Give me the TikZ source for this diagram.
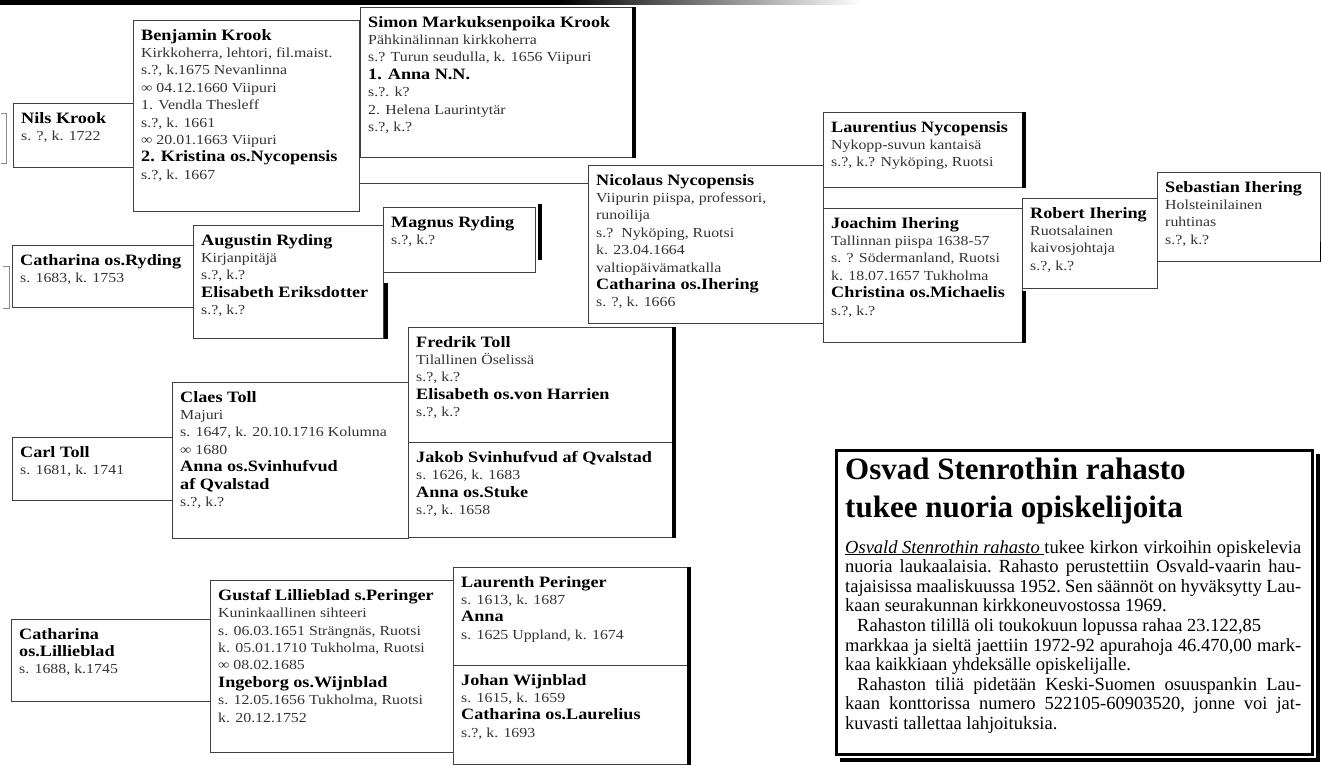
\documentclass[tikz,border=0pt]{standalone}
\usepackage{fontspec}
\setmainfont{Liberation Serif}
\newfontfamily\gfont{Liberation Serif}[FakeStretch=1.15]
\usetikzlibrary{calc}
\tikzset{
  pbox/.style={draw=black!75, line width=0.9pt, anchor=north west, inner sep=0pt},
  ptext/.style={anchor=north west, align=left, inner sep=0pt, text=black!80,
    font=\gfont\fontsize{13.8}{17.4}\selectfont},
  thick edge/.style={draw=black, line width=4pt},
  link/.style={draw=black!75, line width=0.9pt},
  brack/.style={draw=black!45, line width=0.7pt},
  newsbox/.style={draw=black, line width=3pt, anchor=north west, inner sep=0pt},
}
\newcommand{\pname}[1]{{\fontsize{15.8}{17.4}\selectfont\bfseries\color{black}#1}}
\newcommand{\jline}[1]{\leavevmode\hbox to 456pt{#1}}

\begin{document}
\begin{tikzpicture}[x=1pt, y=-1pt]
  \useasboundingbox (0,0) rectangle (1321,767);
  % rule at the top of the page
  \fill[black] (0,0) rectangle (560,5);
  \shade[left color=black, right color=white] (560,0) rectangle (860,5);

  % Krook / Nycopensis / Ihering
  \node[pbox, minimum width=120pt, minimum height=64pt] (nils) at (13,103) {};
  \node[pbox, minimum width=226pt, minimum height=191pt] (benjamin) at (133,20) {};
  \node[pbox, minimum width=272pt, minimum height=150pt] (simon) at (360,7) {};
  \node[pbox, minimum width=235pt, minimum height=158pt] (nicolaus) at (588,165) {};
  \node[pbox, minimum width=199pt, minimum height=75pt] (laurentius) at (823,112) {};
  \node[pbox, minimum width=199pt, minimum height=134pt] (joachim) at (823,208) {};
  \node[pbox, minimum width=135pt, minimum height=90pt] (robert) at (1022,198) {};
  \node[pbox, minimum width=163pt, minimum height=89pt] (sebastian) at (1157,172) {};

  \node[ptext] (nilst) at ([shift={(8,9)}]nils.north west) {\pname{Nils Krook}\\ s. ?, k. 1722};
  \node[ptext] (benjamint) at ([shift={(8,9)}]benjamin.north west) {\pname{Benjamin Krook}\\
    Kirkkoherra, lehtori, fil.maist.\\ s.?, k.1675 Nevanlinna\\ ∞ 04.12.1660 Viipuri\\
    1. Vendla Thesleff\\ s.?, k. 1661\\ ∞ 20.01.1663 Viipuri\\
    \pname{2. Kristina os.Nycopensis}\\ s.?, k. 1667};
  \node[ptext] (simont) at ([shift={(8,9)}]simon.north west) {\pname{Simon Markuksenpoika Krook}\\
    Pähkinälinnan kirkkoherra\\ s.? Turun seudulla, k. 1656 Viipuri\\ \pname{1. Anna N.N.}\\
    s.?. k?\\ 2. Helena Laurintytär\\ s.?, k.?};
  \node[ptext] (nicolaust) at ([shift={(8,9)}]nicolaus.north west) {\pname{Nicolaus Nycopensis}\\
    Viipurin piispa, professori,\\ runoilija\\ s.?~~Nyköping, Ruotsi\\ k. 23.04.1664\\
    valtiopäivämatkalla\\ \pname{Catharina os.Ihering}\\ s. ?, k. 1666};
  \node[ptext] (laurentiust) at ([shift={(8,9)}]laurentius.north west) {\pname{Laurentius Nycopensis}\\
    Nykopp-suvun kantaisä\\ s.?, k.? Nyköping, Ruotsi};
  \node[ptext] (joachimt) at ([shift={(8,9)}]joachim.north west) {\pname{Joachim Ihering}\\
    Tallinnan piispa 1638-57\\ s. ? Södermanland, Ruotsi\\ k. 18.07.1657 Tukholma\\
    \pname{Christina os.Michaelis}\\ s.?, k.?};
  \node[ptext] (robertt) at ([shift={(8,9)}]robert.north west) {\pname{Robert Ihering}\\
    Ruotsalainen\\ kaivosjohtaja\\ s.?, k.?};
  \node[ptext] (sebastiant) at ([shift={(8,9)}]sebastian.north west) {\pname{Sebastian Ihering}\\
    Holsteinilainen\\ ruhtinas\\ s.?, k.?};

  \draw[link] (benjamin.east |- 0,183) -- (nicolaus.west |- 0,183);

  % Ryding
  \node[pbox, minimum width=181pt, minimum height=62pt] (catryding) at (12,245) {};
  \node[pbox, minimum width=190pt, minimum height=113pt] (augustin) at (193,225) {};
  \node[pbox, minimum width=152pt, minimum height=65pt] (magnus) at (383,207) {};
  \node[ptext] (catrydingt) at ([shift={(8,9)}]catryding.north west) {\pname{Catharina os.Ryding}\\
    s. 1683, k. 1753};
  \node[ptext] (augustint) at ([shift={(8,9)}]augustin.north west) {\pname{Augustin Ryding}\\
    Kirjanpitäjä\\ s.?, k.?\\ \pname{Elisabeth Eriksdotter}\\ s.?, k.?};
  \node[ptext] (magnust) at ([shift={(8,9)}]magnus.north west) {\pname{Magnus Ryding}\\ s.?, k.?};

  % Toll
  \node[pbox, minimum width=160pt, minimum height=63pt] (carl) at (12,437) {};
  \node[pbox, minimum width=236pt, minimum height=156pt] (claes) at (172,382) {};
  \node[pbox, minimum width=264pt, minimum height=115pt] (fredrik) at (408,327) {};
  \node[pbox, minimum width=264pt, minimum height=95pt] (jakob) at (408,442) {};
  \node[ptext] (carlt) at ([shift={(8,9)}]carl.north west) {\pname{Carl Toll}\\ s. 1681, k. 1741};
  \node[ptext] (claest) at ([shift={(8,9)}]claes.north west) {\pname{Claes Toll}\\ Majuri\\
    s. 1647, k. 20.10.1716 Kolumna\\ ∞ 1680\\ \pname{Anna os.Svinhufvud}\\
    \pname{af Qvalstad}\\ s.?, k.?};
  \node[ptext] (fredrikt) at ([shift={(8,9)}]fredrik.north west) {\pname{Fredrik Toll}\\
    Tilallinen Öselissä\\ s.?, k.?\\ \pname{Elisabeth os.von Harrien}\\ s.?, k.?};
  \node[ptext] (jakobt) at ([shift={(8,9)}]jakob.north west) {\pname{Jakob Svinhufvud af Qvalstad}\\
    s. 1626, k. 1683\\ \pname{Anna os.Stuke}\\ s.?, k. 1658};

  % Lillieblad
  \node[pbox, minimum width=199pt, minimum height=82pt] (catlil) at (11,619) {};
  \node[pbox, minimum width=243pt, minimum height=172pt] (gustaf) at (210,580) {};
  \node[pbox, minimum width=234pt, minimum height=98pt] (laurenth) at (453,567) {};
  \node[pbox, minimum width=234pt, minimum height=99pt] (johan) at (453,665) {};
  \node[ptext] (catlilt) at ([shift={(8,9)}]catlil.north west) {\pname{Catharina}\\
    \pname{os.Lillieblad}\\ s. 1688, k.1745};
  \node[ptext] (gustaft) at ([shift={(8,9)}]gustaf.north west) {\pname{Gustaf Lillieblad s.Peringer}\\
    Kuninkaallinen sihteeri\\ s. 06.03.1651 Strängnäs, Ruotsi\\ k. 05.01.1710 Tukholma, Ruotsi\\
    ∞ 08.02.1685\\ \pname{Ingeborg os.Wijnblad}\\ s. 12.05.1656 Tukholma, Ruotsi\\ k. 20.12.1752};
  \node[ptext] (laurentht) at ([shift={(8,9)}]laurenth.north west) {\pname{Laurenth Peringer}\\
    s. 1613, k. 1687\\ \pname{Anna}\\ s. 1625 Uppland, k. 1674};
  \node[ptext] (johant) at ([shift={(8,9)}]johan.north west) {\pname{Johan Wijnblad}\\
    s. 1615, k. 1659\\ \pname{Catharina os.Laurelius}\\ s.?, k. 1693};

  % heavy right edges
  \draw[thick edge] ([xshift=1.5pt]simon.north east) -- ([xshift=1.5pt]simon.south east);
  \draw[thick edge] ([xshift=1.5pt]laurentius.north east) -- ([xshift=1.5pt]laurentius.south east);
  \draw[thick edge] ([xshift=1.5pt]joachim.south east) -- ++(0,-52);
  \draw[thick edge] ([xshift=1.5pt]sebastian.south east) -- ++(0,-20);
  \draw[thick edge] ([shift={(4pt,3pt)}]magnus.north east) -- ++(0,56);
  \draw[thick edge] ([xshift=2.5pt]augustin.south east) -- ++(0,-56);
  \draw[thick edge] ([xshift=1.5pt]fredrik.north east) -- ([xshift=1.5pt]jakob.south east);
  \draw[thick edge] ([xshift=1.5pt]laurenth.north east) -- ([xshift=1.5pt]johan.south east);

  % brackets at the page edge
  \draw[brack] (1,113) -- (6,113) -- (6,163) -- (1,163);
  \draw[brack] (3,266) -- (9,266) -- (9,308) -- (3,308);

  % news item
  \node[newsbox, minimum width=476pt, minimum height=304pt] (news) at (835,449) {};
  \draw[black, line width=4pt] ([shift={(3.5pt,-5pt)}]news.north east) -- ([shift={(3.5pt,-3.5pt)}]news.south east)
    -- ([shift={(5pt,-3.5pt)}]news.south west);
  \node[anchor=north west, align=left, inner sep=0pt, font=\fontsize{31}{38}\selectfont\bfseries]
    (newstitle) at (845,458) {Osvad Stenrothin rahasto\\ tukee nuoria opiskelijoita};
  \node[anchor=north west, text width=457pt, align=left, inner sep=0pt,
    font=\fontsize{18.5}{19.6}\selectfont\frenchspacing] (newsbody) at (845,540) {%
    \spaceskip=.25em plus .3em minus .13em\relax\xspaceskip=\spaceskip
    \jline{\underline{\textit{Osvald Stenrothin rahasto}\ }tukee kirkon virkoihin opiskelevia}\\
    \jline{nuoria laukaalaisia. Rahasto perustettiin Osvald-vaarin hau-}\\
    \jline{tajaisissa maaliskuussa 1952. Sen säännöt on hyväksytty Lau-}\\
    kaan seurakunnan kirkkoneuvostossa 1969.\\
    \hspace*{12pt}Rahaston tilillä oli toukokuun lopussa rahaa 23.122,85\\
    \jline{markkaa ja sieltä jaettiin 1972-92 apurahoja 46.470,00 mark-}\\
    kaa kaikkiaan yhdeksälle opiskelijalle.\\
    \jline{\hspace*{12pt}Rahaston tiliä pidetään Keski-Suomen osuuspankin Lau-}\\
    \jline{kaan konttorissa numero 522105-60903520, jonne voi jat-}\\
    kuvasti tallettaa lahjoituksia.};
\end{tikzpicture}
\end{document}
